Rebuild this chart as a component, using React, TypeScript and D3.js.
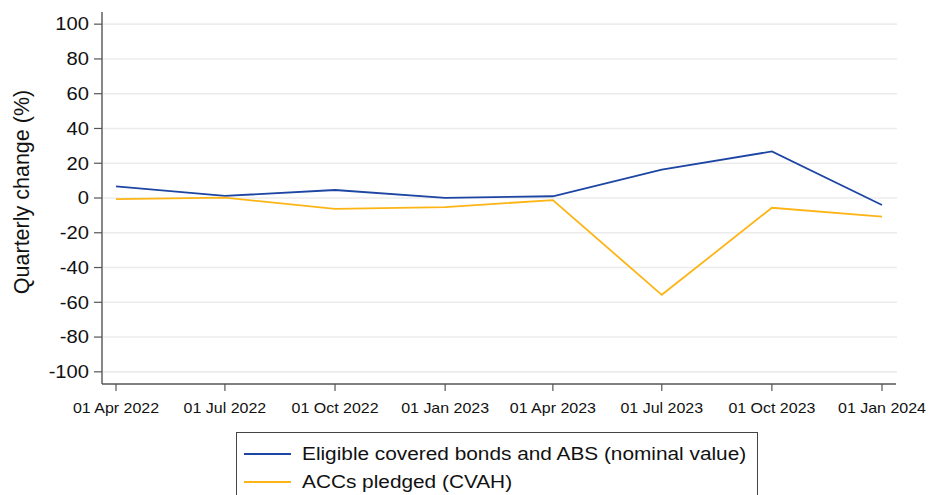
import React from "react";
import * as d3 from "d3";

const dates = ["2022-04-01", "2022-07-01", "2022-10-01", "2023-01-01", "2023-04-01", "2023-07-01", "2023-10-01", "2024-01-01"];
const tickLabels = ["01 Apr 2022", "01 Jul 2022", "01 Oct 2022", "01 Jan 2023", "01 Apr 2023", "01 Jul 2023", "01 Oct 2023", "01 Jan 2024"];
const eligible = [6.7, 1.2, 4.6, 0.1, 1.0, 16.3, 26.8, -4.0];
const accs = [-0.7, 0.2, -6.3, -5.2, -1.2, -55.7, -5.6, -10.7];
const yTicks = [100, 80, 60, 40, 20, 0, -20, -40, -60, -80, -100];
const seriesNames = ["Eligible covered bonds and ABS (nominal value)", "ACCs pledged (CVAH)"];
const colors = ["#1d45a3", "#fdb515"];

const W = 941, H = 495;
const parse = d3.timeParse("%Y-%m-%d");

export default function App() {
  const d = dates.map((s) => parse(s) as Date);
  const x = d3.scaleTime().domain([d[0], d[d.length - 1]]).range([116, 882]);
  const y = d3.scaleLinear().domain([-107, 107]).range([384, 12]);
  const line = d3.line<[Date, number]>().x((p) => x(p[0])).y((p) => y(p[1]));
  const series = [eligible, accs];
  const font = "'Liberation Sans', Arial, sans-serif";
  return (
    <svg width={W} height={H} style={{ position: "absolute", left: 0, top: 0, background: "#fff" }} fontFamily={font}>
      {yTicks.map((t) => (
        <g key={t}>
          <line x1={103} x2={897} y1={y(t)} y2={y(t)} stroke="#ececec" strokeWidth={1.6} />
          <line x1={94} x2={102} y1={y(t)} y2={y(t)} stroke="#555" strokeWidth={1.2} />
          <text transform={`translate(89,${y(t)}) scale(1.12,1)`} dy="0.35em" textAnchor="end" fontSize={18} fill="#111">{t}</text>
        </g>
      ))}
      <line x1={102} x2={102} y1={12} y2={384} stroke="#555" strokeWidth={1.4} />
      <line x1={102} x2={896} y1={384} y2={384} stroke="#555" strokeWidth={1.4} />
      {d.map((dt, i) => (
        <g key={i}>
          <line x1={x(dt)} x2={x(dt)} y1={384} y2={391} stroke="#555" strokeWidth={1.2} />
          <text transform={`translate(${x(dt)},413) scale(1.08,1)`} textAnchor="middle" fontSize={14.8} fill="#111">{tickLabels[i]}</text>
        </g>
      ))}
      <text transform={`translate(29,192) rotate(-90)`} textAnchor="middle" fontSize={21.5} fill="#111">Quarterly change (%)</text>
      {series.map((s, i) => (
        <path key={i} d={line(d.map((dt, j) => [dt, s[j]] as [Date, number])) || ""} fill="none" stroke={colors[i]} strokeWidth={1.8} />
      ))}
      <rect x={236.5} y={432.5} width={521} height={80} fill="#fff" stroke="#444" strokeWidth={1} />
      {seriesNames.map((n, i) => (
        <g key={n}>
          <line x1={244} x2={291} y1={454 + i * 28} y2={454 + i * 28} stroke={colors[i]} strokeWidth={1.8} />
          <text transform={`translate(302,${454 + i * 28}) scale(1.19,1)`} dy="0.35em" fontSize={17.5} fill="#111">{n}</text>
        </g>
      ))}
    </svg>
  );
}
